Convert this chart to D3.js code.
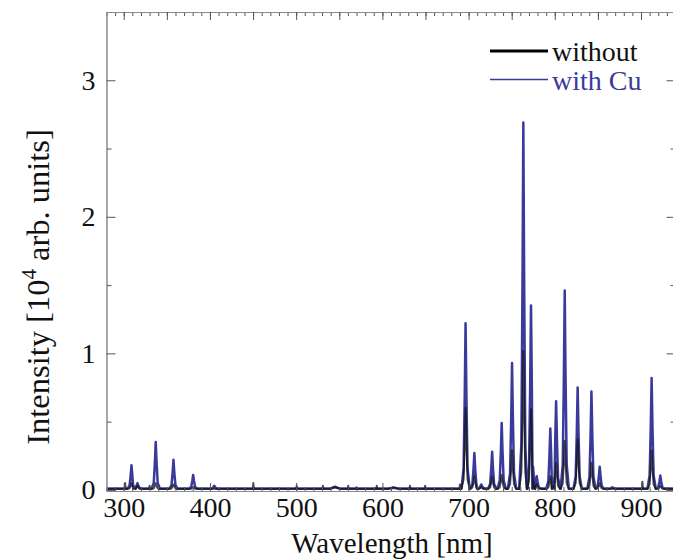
<!DOCTYPE html>
<html>
<head>
<meta charset="utf-8">
<script src="https://cdn.jsdelivr.net/npm/d3@7/dist/d3.min.js"></script>
<style>
    body { margin: 0; background: #fff; }
    text { font-family: "Liberation Serif", "Times New Roman", serif; }
    .axis path, .axis line { stroke: #8a8a8a; }
    .axis .tick line { stroke: #555; }
</style>
</head>
<body>
<div id="chart"></div>
<script>
// emission lines: wavelength [nm] and peak intensity [10^4 arb. units]
let lineNm  = [309.0, 315.9, 337.1, 357.7, 380.5, 405.0, 696.5, 706.7, 714.7, 727.3, 738.4, 750.4,
               763.5, 772.4, 779.0, 794.8, 801.5, 811.5, 826.5, 842.5, 852.1, 866.8, 912.3, 922.4];
let withCu  = [0.18, 0.05, 0.35, 0.22, 0.11, 0.03, 1.22, 0.27, 0.04, 0.28, 0.49, 0.93,
               2.69, 1.35, 0.10, 0.45, 0.65, 1.46, 0.75, 0.72, 0.17, 0.02, 0.82, 0.105];
let without = [0.05, 0.03, 0.05, 0.04, 0.02, 0.01, 0.60, 0.10, 0.02, 0.10, 0.11, 0.29,
               1.02, 0.59, 0.04, 0.10, 0.20, 0.36, 0.37, 0.20, 0.05, 0.01, 0.29, 0.03];

// narrow spikes that only show in the "without" trace
let spikeNm  = [301.6, 330.0, 450.3, 500.6, 531.0, 560.4, 570.0, 593.5, 632.0, 649.6, 690.0, 901.6];
let spikeInt = [0.05, 0.03, 0.05, 0.03, 0.03, 0.03, 0.02, 0.03, 0.03, 0.03, 0.04, 0.06];

// low broad bumps
let bumpNm = [545.0, 612.8];
let bumpCu = [0.02, 0.015];
let bumpWo = [0.025, 0.02];

let baseCu = 0.01;
let baseWo = 0.006;

let xTicks = [300, 400, 500, 600, 700, 800, 900];
let yTicks = [0, 1, 2, 3];

let margin = { top: 12, right: -2.5, bottom: 69, left: 106.5 };
let width = 673 - margin.left - margin.right;
let height = 560 - margin.top - margin.bottom;

let svg = d3.select("#chart").append("svg")
    .attr("width", 673)
    .attr("height", 560)
    .style("overflow", "hidden")
    .append("g")
    .attr("transform", "translate(" + margin.left + "," + margin.top + ")");

let x = d3.scaleLinear().domain([280, 940]).range([0, width]);
let y = d3.scaleLinear().domain([-0.008, 3.5]).range([height, 0]);

// build one trace as a polyline through the baseline and every peak top
function trace(peaks, base, spikes, bumps) {
    let pts = [[280, base], [940, base]];
    peaks.forEach(function (p) {
        let h = p[1] - base;
        pts.push([p[0] - 4.8, base], [p[0] - 2.3, base + h * 0.12], [p[0] - 1.0, base + h * 0.55], [p[0], p[1]],
                 [p[0] + 1.0, base + h * 0.55], [p[0] + 2.3, base + h * 0.12], [p[0] + 4.8, base]);
    });
    spikes.forEach(function (p) {
        pts.push([p[0] - 0.6, base], [p[0], p[1]], [p[0] + 0.6, base]);
    });
    bumps.forEach(function (p) {
        pts.push([p[0] - 6, base], [p[0], p[1]], [p[0] + 6, base]);
    });
    return pts.sort(function (a, b) { return a[0] - b[0]; });
}

let cuData = trace(lineNm.map((d, i) => [d, withCu[i]]), baseCu, [],
    bumpNm.map((d, i) => [d, bumpCu[i]]));
let woData = trace(lineNm.map((d, i) => [d, without[i]]), baseWo,
    spikeNm.map((d, i) => [d, spikeInt[i]]),
    bumpNm.map((d, i) => [d, bumpWo[i]]));

let line = d3.line()
    .x(function (d) { return x(d[0]); })
    .y(function (d) { return y(d[1]); });

// clip to the plot frame
svg.append("clipPath").attr("id", "plotClip")
    .append("rect").attr("width", width).attr("height", height);

svg.append("path")
    .datum(cuData)
    .attr("clip-path", "url(#plotClip)")
    .attr("fill", "none")
    .attr("stroke", "#383b9a")
    .attr("stroke-width", 2.5)
    .attr("stroke-linejoin", "round")
    .attr("d", line);

svg.append("path")
    .datum(woData)
    .attr("clip-path", "url(#plotClip)")
    .attr("fill", "none")
    .attr("stroke", "#111")
    .attr("stroke-opacity", 0.75)
    .attr("stroke-width", 2)
    .attr("stroke-linejoin", "round")
    .attr("d", line);

// axes (ticks point inward)
let minorX = d3.range(280, 941, 10);
let majorX = d3.range(300, 941, 50);

svg.append("g").attr("class", "axis")
    .call(d3.axisTop(x).tickValues(minorX).tickSize(-4).tickSizeOuter(0).tickFormat(""));
svg.append("g").attr("class", "axis")
    .call(d3.axisTop(x).tickValues(majorX).tickSize(-8).tickSizeOuter(0).tickFormat(""));

svg.append("g").attr("class", "axis")
    .attr("transform", "translate(0," + height + ")")
    .call(d3.axisBottom(x).tickValues(minorX).tickSize(-4).tickSizeOuter(0).tickFormat(""));
let xAxis = svg.append("g").attr("class", "axis")
    .attr("transform", "translate(0," + height + ")")
    .call(d3.axisBottom(x).tickValues(xTicks).tickSize(-8).tickSizeOuter(0).tickPadding(6));

let minorY = [0.5, 1.5, 2.5];
svg.append("g").attr("class", "axis")
    .call(d3.axisLeft(y).tickValues(minorY).tickSize(-5).tickSizeOuter(0).tickFormat(""));
let yAxis = svg.append("g").attr("class", "axis")
    .call(d3.axisLeft(y).tickValues(yTicks).tickSize(-9).tickSizeOuter(0).tickPadding(11)
        .tickFormat(d3.format("d")));

svg.append("g").attr("class", "axis")
    .attr("transform", "translate(" + width + ",0)")
    .call(d3.axisRight(y).tickValues(minorY).tickSize(-5).tickSizeOuter(0).tickFormat(""));
svg.append("g").attr("class", "axis")
    .attr("transform", "translate(" + width + ",0)")
    .call(d3.axisRight(y).tickValues(yTicks).tickSize(-9).tickSizeOuter(0).tickFormat(""));

svg.selectAll(".axis text")
    .attr("font-family", "Liberation Serif, serif")
    .attr("font-size", 28)
    .attr("fill", "#111");

// axis titles
svg.append("text")
    .attr("x", 392 - margin.left)
    .attr("y", 553 - margin.top)
    .attr("text-anchor", "middle")
    .attr("font-size", 29)
    .attr("fill", "#111")
    .text("Wavelength [nm]");

let yTitle = svg.append("text")
    .attr("transform", "translate(" + (49 - margin.left) + "," + (287 - margin.top) + ") rotate(-90)")
    .attr("text-anchor", "middle")
    .attr("font-size", 32.5)
    .attr("fill", "#111");
yTitle.append("tspan").text("Intensity [10");
yTitle.append("tspan").attr("font-size", 21).attr("dy", -13).text("4");
yTitle.append("tspan").attr("dy", 13).text(" arb. units]");

// legend
let legend = svg.append("g")
    .attr("transform", "translate(" + (490 - margin.left) + "," + (51 - margin.top) + ")");
legend.append("line")
    .attr("x1", 0).attr("x2", 58).attr("y1", 0).attr("y2", 0)
    .attr("stroke", "#000").attr("stroke-width", 3);
legend.append("text")
    .attr("x", 62).attr("y", 10)
    .attr("font-size", 28).attr("fill", "#111")
    .text("without");
legend.append("line")
    .attr("x1", 0).attr("x2", 58).attr("y1", 28.5).attr("y2", 28.5)
    .attr("stroke", "#383b9a").attr("stroke-width", 1.5);
legend.append("text")
    .attr("x", 62).attr("y", 39)
    .attr("font-size", 28).attr("fill", "#383b9a")
    .text("with Cu");
</script>
</body>
</html>
